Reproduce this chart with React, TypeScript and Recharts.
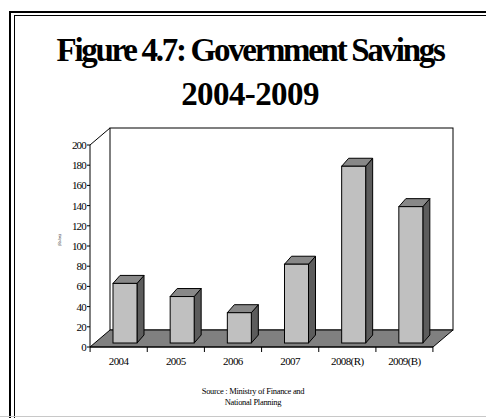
import React from "react"
import { Bar, BarChart, ReferenceArea, XAxis, YAxis } from "recharts"

const years = ["2004", "2005", "2006", "2007", "2008(R)", "2009(B)"]
const savings = [59, 46, 30, 78, 175, 135]
const yTicks = [0, 20, 40, 60, 80, 100, 120, 140, 160, 180, 200]

const data = years.map((name, i) => ({ name, value: savings[i] }))

// depth of the back wall and of each column
const WALL_DX = 20
const WALL_DY = 17
const COL_DX = 7
const COL_DY = 8
const COL_SHIFT_X = 6
const COL_SHIFT_Y = 4

function Walls(props: any) {
  const { x, y, width, height } = props
  const b = y + height
  const r = x + width
  return (
    <g>
      <rect x={x + WALL_DX} y={y - WALL_DY} width={width} height={height} fill="#fff" stroke="#000" strokeWidth={1} />
      <line x1={x} y1={y} x2={x + WALL_DX} y2={y - WALL_DY} stroke="#000" />
      <polygon
        points={`${x},${b} ${r},${b} ${r + WALL_DX},${b - WALL_DY} ${x + WALL_DX},${b - WALL_DY}`}
        fill="#808080"
        stroke="#000"
        strokeWidth={1}
      />
    </g>
  )
}

function Column(props: any) {
  const { x, y, width, height } = props
  const fx = x + COL_SHIFT_X
  const fy = y - COL_SHIFT_Y
  const fb = fy + height
  const fr = fx + width
  return (
    <g stroke="#000" strokeWidth={1}>
      <polygon points={`${fr},${fy} ${fr + COL_DX},${fy - COL_DY} ${fr + COL_DX},${fb - COL_DY} ${fr},${fb}`} fill="#5c5c5c" />
      <polygon points={`${fx},${fy} ${fx + COL_DX},${fy - COL_DY} ${fr + COL_DX},${fy - COL_DY} ${fr},${fy}`} fill="#888" />
      <rect x={fx} y={fy} width={width} height={height} fill="#c0c0c0" />
    </g>
  )
}

function CatTick(props: any) {
  const { x, y, payload, index } = props
  const half = 57 / 2
  return (
    <g>
      <line x1={x - half} y1={y - 8} x2={x - half} y2={y - 3} stroke="#000" />
      {index === years.length - 1 && <line x1={x + half} y1={y - 8} x2={x + half} y2={y - 3} stroke="#000" />}
      <text x={x} y={y + 10} textAnchor="middle" fontSize={11} letterSpacing={-0.6} fontFamily="Liberation Serif" fill="#000">
        {payload.value}
      </text>
    </g>
  )
}

export default function App() {
  return (
    <div style={{ position: "absolute", left: 0, top: 0, width: 486, height: 418, background: "#fff", overflow: "hidden", fontFamily: "'Liberation Serif', serif" }}>
      <div style={{ position: "absolute", left: 9, top: 11, width: 600, height: 600, borderLeft: "2px solid #000", borderTop: "2px solid #000" }} />
      <div style={{ position: "absolute", left: 14, top: 15, width: 600, height: 600, borderLeft: "1px solid #000", borderTop: "1px solid #000" }} />
      <div style={{ position: "absolute", left: 0, top: 416, width: 486, height: 1, background: "#c8c8c8" }} />

      <div style={{ position: "absolute", left: 0, top: 28, width: 500, textAlign: "center", fontSize: 33, lineHeight: "44px", fontWeight: "bold" }}>
        <div style={{ letterSpacing: -2.3, whiteSpace: "nowrap" }}>Figure 4.7: Government Savings</div>
        <div style={{ letterSpacing: -0.6 }}>2004-2009</div>
      </div>

      <BarChart
        width={486}
        height={418}
        data={data}
        margin={{ top: 145, right: 53, bottom: 51, left: 60 }}
        style={{ position: "absolute", left: 0, top: 0 }}
      >
        <ReferenceArea y1={0} y2={200} ifOverflow="visible" shape={<Walls />} />
        <XAxis
          dataKey="name"
          height={20}
          axisLine={{ stroke: "#000" }}
          tickLine={false}
          tick={<CatTick />}
          interval={0}
        />
        <YAxis
          width={30}
          domain={[0, 200]}
          ticks={yTicks}
          interval={0}
          axisLine={{ stroke: "#000" }}
          tickLine={{ stroke: "#000" }}
          tickSize={3}
          tickMargin={1}
          tick={{ fontSize: 11, fill: "#000", fontFamily: "Liberation Serif", letterSpacing: -0.8 }}
          label={{ value: "(Rs bn)", angle: -90, position: "insideLeft", offset: 0, fontSize: 4, fill: "#000" }}
        />
        <Bar dataKey="value" barSize={24} shape={<Column />} isAnimationActive={false} />
      </BarChart>

      <div style={{ position: "absolute", left: 0, top: 386, width: 506, textAlign: "center", fontSize: 8.5, lineHeight: "11px", letterSpacing: -0.3 }}>
        <div>Source : Ministry of Finance and</div>
        <div>National Planning</div>
      </div>
    </div>
  )
}
